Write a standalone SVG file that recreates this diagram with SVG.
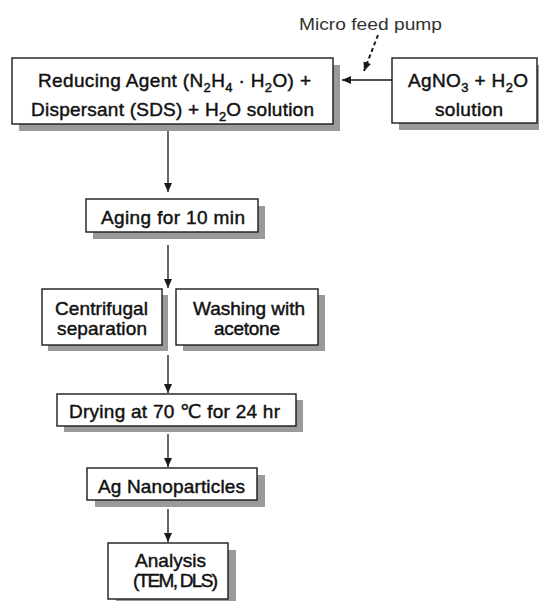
<svg xmlns="http://www.w3.org/2000/svg" width="539" height="601" viewBox="0 0 539 601">
<defs>
<style>
.sh{fill:#9a9a9a;stroke:none}
.bx{fill:#fff;stroke:#1a1a1a;stroke-width:1.4}
.t{font-family:"Liberation Sans","DejaVu Sans",Arial,sans-serif;font-size:19px;fill:#111;stroke:#111;stroke-width:0.45}
.lbl{font-family:"Liberation Sans","DejaVu Sans",Arial,sans-serif;font-size:17px;fill:#333}
.sub{font-size:13px}
.c{stroke:#1a1a1a;stroke-width:1.3;fill:none}
.d{stroke:#1a1a1a;stroke-width:2;stroke-dasharray:4 3;fill:none}
</style>
<marker id="ah" markerUnits="userSpaceOnUse" markerWidth="10" markerHeight="8" refX="9" refY="4" orient="auto">
<path d="M0,0 L9,4 L0,8 z" fill="#1a1a1a"/>
</marker>
</defs>
<rect width="539" height="601" fill="#fff"/>

<g id="connectors">
<line class="c" x1="392" y1="80" x2="342" y2="80" marker-end="url(#ah)"/>
<line class="d" x1="378" y1="35" x2="364" y2="71" marker-end="url(#ah)"/>
<line class="c" x1="168" y1="131" x2="168" y2="192" marker-end="url(#ah)"/>
<line class="c" x1="168" y1="245" x2="168" y2="288" marker-end="url(#ah)"/>
<line class="c" x1="168" y1="355" x2="168" y2="393" marker-end="url(#ah)"/>
<line class="c" x1="168" y1="434" x2="168" y2="467" marker-end="url(#ah)"/>
<line class="c" x1="168" y1="509" x2="168" y2="542" marker-end="url(#ah)"/>
</g>

<g id="micro-feed-pump">
<text class="lbl" x="299" y="30" textLength="143" lengthAdjust="spacingAndGlyphs">Micro feed pump</text>
</g>

<g id="reducing-agent">
<rect class="sh" x="19" y="65" width="321" height="66"/>
<rect class="bx" x="12" y="58" width="321" height="66"/>
<text class="t" x="38" y="87" textLength="273">Reducing Agent (N<tspan class="sub" dy="5">2</tspan><tspan dy="-5">H</tspan><tspan class="sub" dy="5">4</tspan><tspan dy="-5"> · H</tspan><tspan class="sub" dy="5">2</tspan><tspan dy="-5">O) +</tspan></text>
<text class="t" x="31" y="116" textLength="283">Dispersant (SDS) + H<tspan class="sub" dy="5">2</tspan><tspan dy="-5">O solution</tspan></text>
</g>

<g id="agno3">
<rect class="sh" x="399" y="65" width="145" height="65"/>
<rect class="bx" x="392" y="58" width="145" height="65"/>
<text class="t" x="408" y="87" textLength="120">AgNO<tspan class="sub" dy="5">3</tspan><tspan dy="-5"> + H</tspan><tspan class="sub" dy="5">2</tspan><tspan dy="-5">O</tspan></text>
<text class="t" x="435" y="116" textLength="68">solution</text>
</g>

<g id="aging">
<rect class="sh" x="93" y="206" width="172" height="33"/>
<rect class="bx" x="86" y="199" width="172" height="33"/>
<text class="t" x="101" y="224" textLength="144">Aging for 10 min</text>
</g>

<g id="centrifugal">
<rect class="sh" x="48" y="295" width="120" height="56"/>
<rect class="bx" x="42" y="289" width="120" height="56"/>
<text class="t" x="55" y="315" textLength="93">Centrifugal</text>
<text class="t" x="57" y="335" textLength="90">separation</text>
</g>

<g id="washing">
<rect class="sh" x="183" y="295" width="142" height="56"/>
<rect class="bx" x="176" y="289" width="142" height="56"/>
<text class="t" x="193" y="315" textLength="112">Washing with</text>
<text class="t" x="214" y="335" textLength="66">acetone</text>
</g>

<g id="drying">
<rect class="sh" x="64" y="400" width="239" height="32"/>
<rect class="bx" x="57" y="394" width="239" height="32"/>
<text class="t" x="69" y="418" textLength="211">Drying at 70 ℃ for 24 hr</text>
</g>

<g id="ag-nanoparticles">
<rect class="sh" x="95" y="475" width="170" height="32"/>
<rect class="bx" x="87" y="468" width="170" height="32"/>
<text class="t" x="98" y="493" textLength="147">Ag Nanoparticles</text>
</g>

<g id="analysis">
<rect class="sh" x="116" y="550" width="120" height="56"/>
<rect class="bx" x="108" y="543" width="120" height="56"/>
<text class="t" x="135" y="567" textLength="71">Analysis</text>
<text class="t" x="133" y="587" textLength="85">(TEM, DLS)</text>
</g>
</svg>
